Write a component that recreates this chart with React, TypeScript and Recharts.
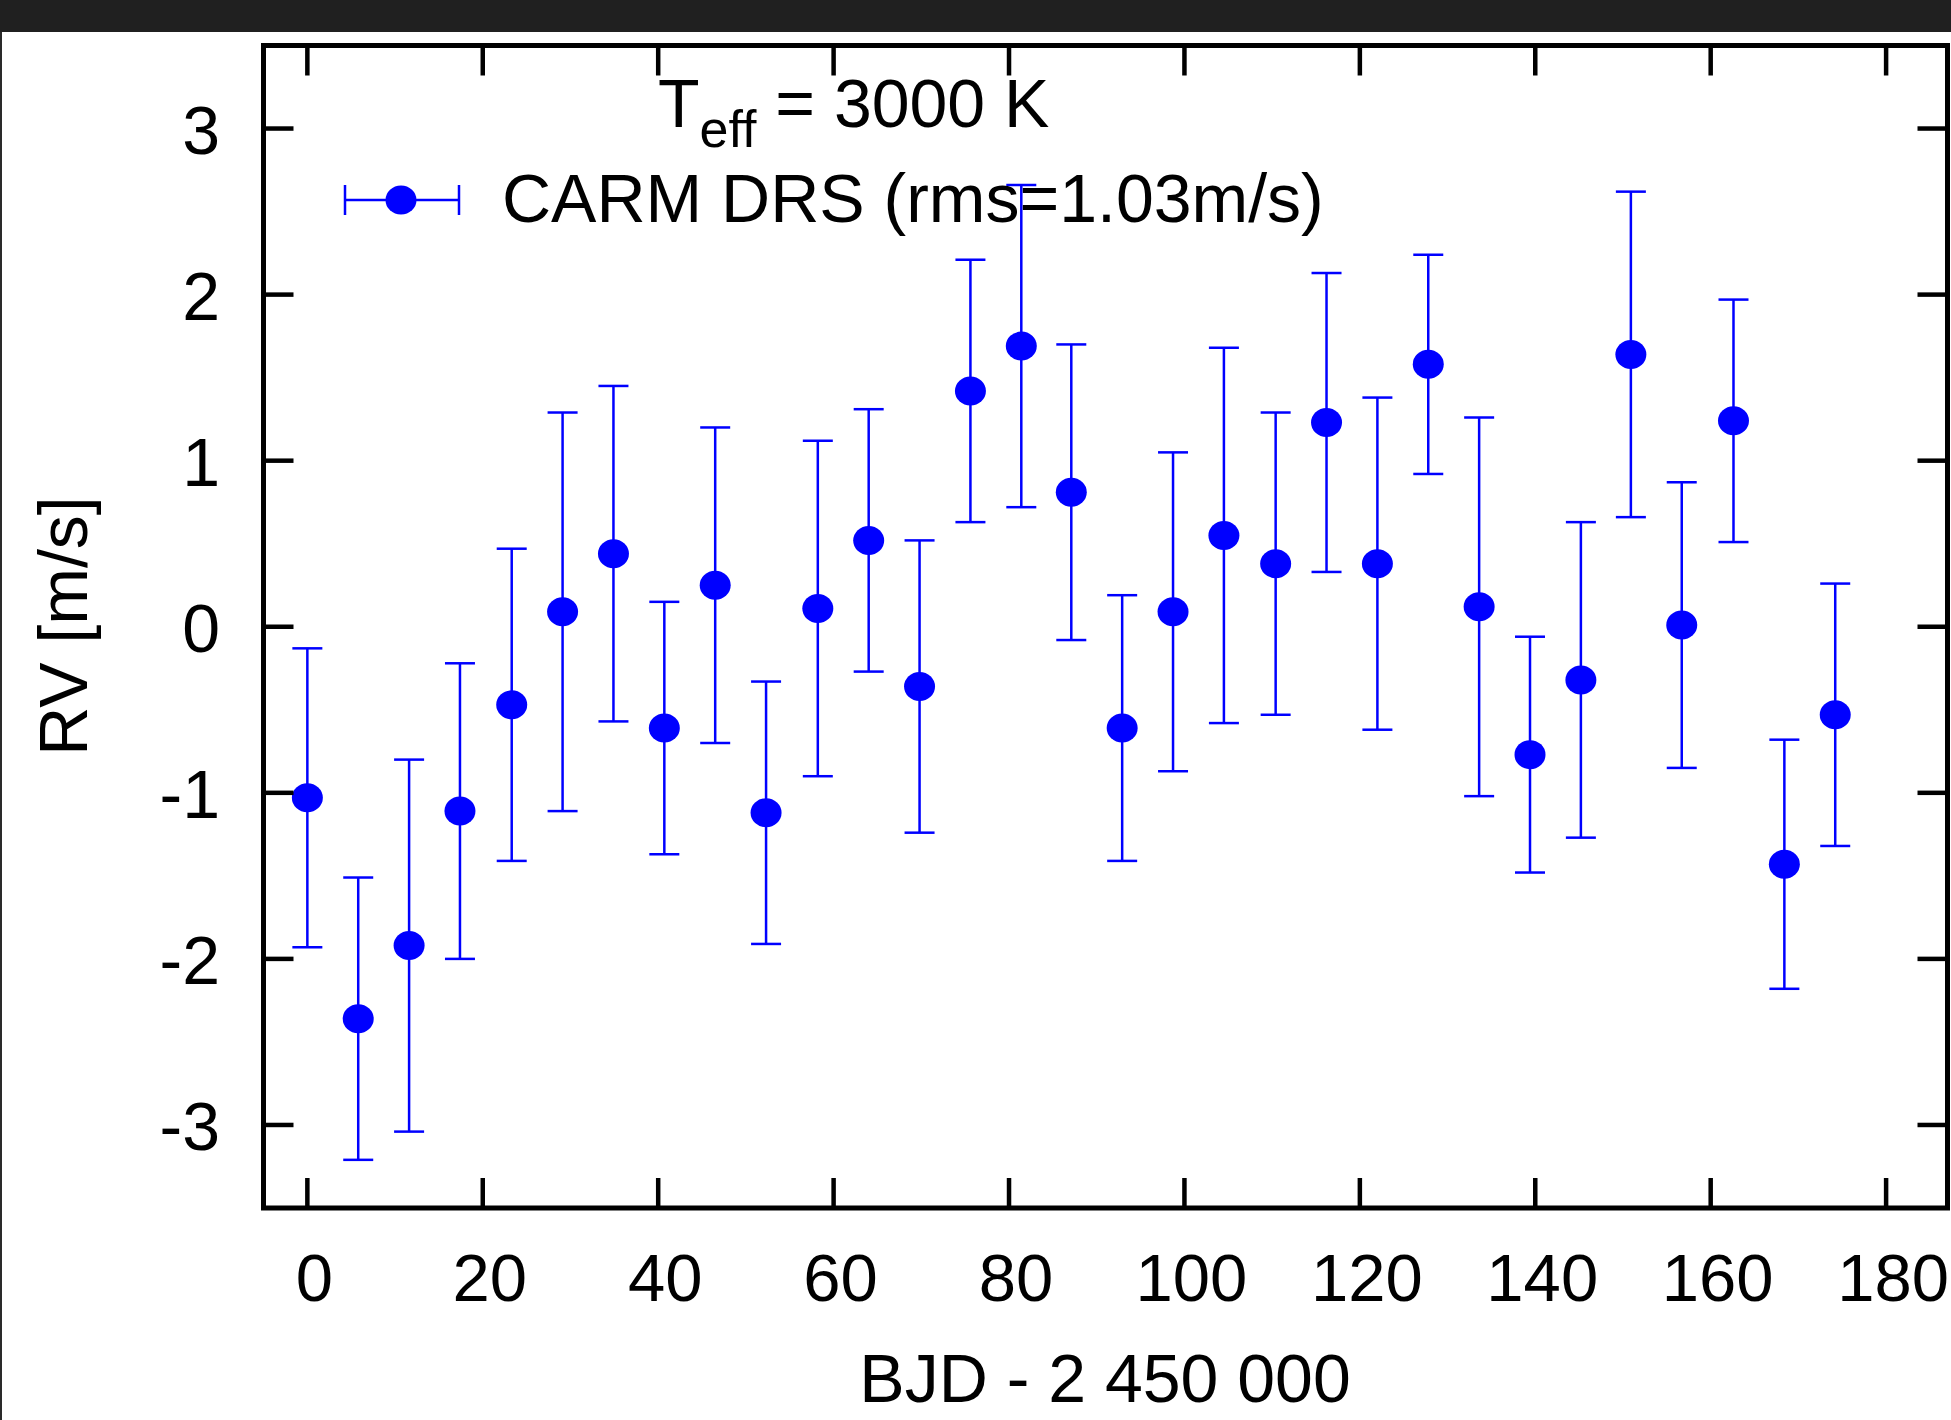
import React from "react";
import { ScatterChart, Scatter, XAxis, YAxis, ErrorBar, ReferenceArea } from "recharts";

const X_VALUES = [0, 5.8, 11.6, 17.4, 23.3, 29.1, 34.9, 40.7, 46.5, 52.3, 58.2, 64.0, 69.8, 75.6, 81.4, 87.1, 92.9, 98.7, 104.5, 110.4, 116.2, 122.0, 127.8, 133.6, 139.4, 145.2, 150.9, 156.7, 162.6, 168.4, 174.2];
const RV_VALUES = [-1.03, -2.36, -1.92, -1.11, -0.47, 0.09, 0.44, -0.61, 0.25, -1.12, 0.11, 0.52, -0.36, 1.42, 1.69, 0.81, -0.61, 0.09, 0.55, 0.38, 1.23, 0.38, 1.58, 0.12, -0.77, -0.32, 1.64, 0.01, 1.24, -1.43, -0.53];
const RV_ERRORS = [0.9, 0.85, 1.12, 0.89, 0.94, 1.2, 1.01, 0.76, 0.95, 0.79, 1.01, 0.79, 0.88, 0.79, 0.97, 0.89, 0.8, 0.96, 1.13, 0.91, 0.9, 1.0, 0.66, 1.14, 0.71, 0.95, 0.98, 0.86, 0.73, 0.75, 0.79];

const X_TICKS = [0, 20, 40, 60, 80, 100, 120, 140, 160, 180];
const Y_TICKS = [-3, -2, -1, 0, 1, 2, 3];
const X_DOMAIN = [-5, 187];
const Y_DOMAIN = [-3.5, 3.5];

const SERIES_NAME = "CARM DRS (rms=1.03m/s)";
const X_LABEL = "BJD - 2 450 000";
const Y_LABEL = "RV [m/s]";

const points = X_VALUES.map((x, i) => ({ x, y: RV_VALUES[i], err: RV_ERRORS[i] }));

const FONT = "'Liberation Sans', Arial, Helvetica, sans-serif";
const BLUE = "#0000ff";
const TICK_LEN = 30;

function BottomTick(props: any) {
  const { x, y, payload } = props;
  return (
    <g>
      <line x1={x} y1={y} x2={x} y2={y - TICK_LEN} stroke="#000" strokeWidth={4.5} />
      <text x={x + 7} y={y + 93} textAnchor="middle" fontFamily={FONT} fontSize={67} fill="#000">
        {String(payload.value)}
      </text>
    </g>
  );
}

function TopTick(props: any) {
  const { x, y } = props;
  return <line x1={x} y1={y} x2={x} y2={y + TICK_LEN} stroke="#000" strokeWidth={4.5} />;
}

function LeftTick(props: any) {
  const { x, y, payload } = props;
  return (
    <g>
      <line x1={x} y1={y} x2={x + TICK_LEN} y2={y} stroke="#000" strokeWidth={4.5} />
      <text x={x - 43.5} y={y + 25} textAnchor="end" fontFamily={FONT} fontSize={68} fill="#000">
        {String(payload.value)}
      </text>
    </g>
  );
}

function RightTick(props: any) {
  const { x, y } = props;
  return <line x1={x} y1={y} x2={x - TICK_LEN} y2={y} stroke="#000" strokeWidth={4.5} />;
}

function Dot(props: any) {
  const { cx, cy } = props;
  return <ellipse cx={cx} cy={cy} rx={15.5} ry={14.5} fill={BLUE} />;
}

export default function App() {
  return (
    <div style={{ position: "absolute", left: 0, top: 0, width: 1951, height: 1420, background: "#fff", overflow: "hidden" }}>
      <ScatterChart width={1951} height={1420} margin={{ top: 44.5, right: 2.5, bottom: 211, left: 262.5 }}>
        <XAxis xAxisId="b" type="number" dataKey="x" domain={X_DOMAIN} ticks={X_TICKS} interval={0} orientation="bottom" height={1}
          axisLine={false} tickLine={false} tickSize={0} tickMargin={0} tick={<BottomTick />} allowDataOverflow />
        <XAxis xAxisId="t" type="number" dataKey="x" domain={X_DOMAIN} ticks={X_TICKS} interval={0} orientation="top" height={1}
          axisLine={false} tickLine={false} tickSize={0} tickMargin={0} tick={<TopTick />} allowDataOverflow />
        <YAxis yAxisId="l" type="number" dataKey="y" domain={Y_DOMAIN} ticks={Y_TICKS} interval={0} orientation="left" width={1}
          axisLine={false} tickLine={false} tickSize={0} tickMargin={0} tick={<LeftTick />} allowDataOverflow />
        <YAxis yAxisId="r" type="number" dataKey="y" domain={Y_DOMAIN} ticks={Y_TICKS} interval={0} orientation="right" width={1}
          axisLine={false} tickLine={false} tickSize={0} tickMargin={0} tick={<RightTick />} allowDataOverflow />
        <ReferenceArea xAxisId="b" yAxisId="l" x1={X_DOMAIN[0]} x2={X_DOMAIN[1]} y1={Y_DOMAIN[0]} y2={Y_DOMAIN[1]}
          fill="none" fillOpacity={0} stroke="#000" strokeWidth={5} ifOverflow="visible" />
        <Scatter xAxisId="b" yAxisId="l" name={SERIES_NAME} data={points} fill={BLUE} shape={<Dot />} isAnimationActive={false}>
          <ErrorBar dataKey="err" direction="y" width={15} stroke={BLUE} strokeWidth={2.5} isAnimationActive={false} />
        </Scatter>
      </ScatterChart>
      <svg width={1951} height={1420} style={{ position: "absolute", left: 0, top: 0, pointerEvents: "none" }}>
        <text x={87} y={626} transform="rotate(-90 87 626)" textAnchor="middle" fontFamily={FONT} fontSize={68} fill="#000">{Y_LABEL}</text>
        <text x={1105} y={1402} textAnchor="middle" fontFamily={FONT} fontSize={68} fill="#000">{X_LABEL}</text>
        <text x={658} y={127} fontFamily={FONT} fontSize={68} fill="#000">
          T<tspan fontSize={52} dy={20}>eff</tspan><tspan dy={-20}> = 3000 K</tspan>
        </text>
        <g stroke={BLUE} strokeWidth={2.5}>
          <line x1={345} y1={200} x2={459} y2={200} />
          <line x1={345} y1={185} x2={345} y2={215} />
          <line x1={459} y1={185} x2={459} y2={215} />
        </g>
        <ellipse cx={401} cy={200} rx={15.5} ry={14.5} fill={BLUE} />
        <text x={502} y={222} fontFamily={FONT} fontSize={68} fill="#000">{SERIES_NAME}</text>
      </svg>
      <div style={{ position: "absolute", left: 0, top: 0, width: 1951, height: 32, background: "#202020" }} />
      <div style={{ position: "absolute", left: 0, top: 32, width: 1.5, height: 1388, background: "#2a2a2a" }} />
    </div>
  );
}
